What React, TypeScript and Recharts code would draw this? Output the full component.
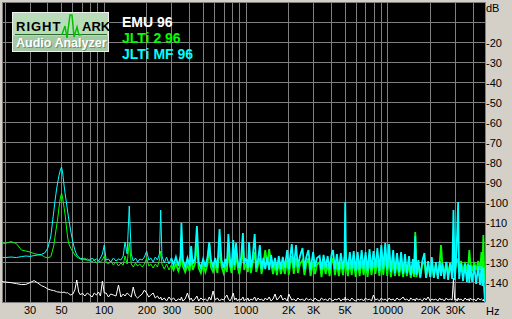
import React from 'react';
import { LineChart, Line, XAxis, YAxis, CartesianGrid } from 'recharts';

// ---- frequencies (Hz) ----
const freqA = [
  19, 20, 22, 24, 26, 28, 30, 32, 34, 36,
  38, 40, 42, 44, 45, 46, 47, 48, 49, 50,
  51, 52, 53, 54, 55, 56, 58, 60, 62, 64,
  66, 68, 70, 73, 76, 79, 82, 85, 88, 91,
  94, 97, 100,
];
const freqB = [
  103, 107, 111, 116, 121, 126, 131, 136, 140, 145,
  150, 155, 160, 166, 172, 178, 185, 192, 199, 206,
  213, 221, 229, 237, 245, 250, 255, 265, 275, 286,
  297, 308, 320, 333, 345, 350, 358, 372, 386, 400,
  410, 420, 436, 450, 463, 480, 498, 516, 535, 550,
  565, 585, 606, 628, 650, 670, 694, 715, 732, 750,
  770, 790, 812, 830, 850, 870, 895, 922, 950, 970,
  990,
];
const freqC = [
  1010, 1030, 1050, 1080, 1110, 1150, 1180, 1215, 1250, 1285,
  1325, 1365, 1410, 1455, 1500, 1550, 1600, 1650, 1700, 1760,
  1815, 1875, 1950, 2000, 2050, 2100, 2170, 2250, 2320, 2400,
  2500, 2580, 2660, 2750, 2850, 2970, 3060, 3160, 3300, 3400,
  3520, 3640, 3760, 3880, 4000, 4100, 4230, 4370, 4510, 4660,
  4820, 4950, 5000, 5060, 5220, 5390, 5560, 5740, 5930, 6120,
  6320, 6530, 6740, 6960, 7190, 7420, 7660, 7910, 8170, 8430,
  8710, 8990, 9280, 9580, 9890, 10200, 10500, 10900, 11200, 11600,
  12000, 12400, 12800, 13200, 13600, 14100, 14500, 15000, 15300, 15600,
  15900, 16400, 16900, 17500, 18100, 18600, 19200, 19900, 20400, 21100,
  21800, 22500, 23200, 23700, 24200, 25000, 25800, 26600, 27500, 28400,
  29000, 29600, 30200, 30800, 31300, 31800, 32800, 33900, 35000, 36100,
  37000, 37500, 38100, 39300, 40600, 41900, 43300, 44700, 45700, 46500,
  47100, 47600, 48000, 48400,
];

// ---- EMU 96 (dB) ----
const emuA = [
  -139.8, -140, -140.3, -140.8, -141.3, -141.2, -140.3, -139.3, -140.5, -141.8,
  -142.5, -143.5, -144, -144.3, -144.5, -144.8, -145, -145, -145.2, -145,
  -145.3, -145, -145.3, -145.5, -145.3, -145.8, -146.5, -146, -144, -139,
  -145, -146.5, -145.5, -147, -145.5, -146.5, -147.5, -145.5, -146.5, -145,
  -147, -139.5, -145.5,
];
const emuB = [
  -145.5, -147.5, -146, -146.5, -147, -141.5, -147.5, -146, -147, -145.5,
  -146.5, -147.5, -142.5, -147, -148, -147, -146, -144, -145.5, -147.5,
  -146.5, -145.5, -148, -147, -148.5, -147.5, -149, -148, -149.5, -147.5,
  -149, -148, -149.5, -148.5, -149, -147.5, -149.5, -148.5, -145.5, -149,
  -148, -149.5, -148.5, -147, -149.5, -148, -149, -148.5, -149.5, -147.5,
  -149, -144.5, -149, -148, -149.5, -148.5, -149, -147.5, -146.5, -148.5,
  -149.5, -148, -145.5, -149, -148, -149.5, -148.5, -149, -147.5, -149.5,
  -148.5,
];
const emuC = [
  -149, -148, -149.5, -148.5, -149, -147.5, -149.5, -148, -149, -148.5,
  -149.5, -148, -149, -147.5, -149.5, -148.5, -146, -149, -148, -146.5,
  -149, -148, -149.5, -146, -147.5, -149, -148.5, -149.5, -148, -149,
  -148.5, -149.5, -148, -149, -148.5, -149.5, -148, -149, -149.5, -148,
  -149, -148.5, -149.5, -148, -149, -149.5, -148.5, -149, -148, -149.5,
  -148.5, -149, -147.5, -149, -148.5, -149.5, -148, -149, -149.5, -148.5,
  -149, -148.5, -149.5, -148, -149, -148.5, -149.5, -146.5, -149, -148.5,
  -149.5, -148, -149, -148.5, -149.5, -148, -149, -148.5, -149.5, -148,
  -149, -148.5, -147.5, -149, -148.5, -149.5, -148, -149, -148.5, -149.5,
  -148, -149, -148.5, -149.5, -148, -149, -147.5, -149.5, -148.5, -149,
  -148.5, -149.5, -148, -149, -148.5, -149.5, -148, -149, -148.5, -149,
  -138, -149, -148.5, -149.5, -148, -149, -148.5, -149.5, -148, -149,
  -148.5, -149.5, -148, -149, -148.5, -149.5, -148, -149, -148.5, -149,
  -149.5, -148.5, -149, -149.5,
];

// ---- JLTi 2 96 (dB) ----
const jlti2A = [
  -120.5, -120.7, -119.8, -120.8, -124, -124.5, -125, -125.8, -126.2, -126.5,
  -127.5, -128, -127.3, -122, -117, -112.5, -108, -102.5, -98, -95.5,
  -98.5, -102.5, -106.5, -112, -117, -120.5, -123, -124.8, -126.5, -127.5,
  -128, -128.5, -129, -128, -129.5, -128.5, -130, -129, -130.5, -129.5,
  -130, -129, -127,
];
const jlti2B = [
  -130, -131, -129.5, -131.5, -130, -132, -130.5, -131.5, -127, -131,
  -120, -131, -132.5, -130.5, -132, -131, -132.5, -131, -128, -132,
  -131, -133, -131, -132.5, -129, -124.5, -131, -133.5, -131, -134,
  -131.5, -134, -131, -134.5, -131, -118, -132, -135, -131.5, -134.5,
  -127, -134, -131, -121, -133, -135.5, -131.5, -135, -131, -121,
  -132.5, -135, -131.5, -135.5, -122, -132, -135.5, -131.5, -135, -123,
  -132, -135.5, -126, -134, -125, -132, -136, -131, -123, -134,
  -131.5,
];
const jlti2C = [
  -131, -135, -127, -135.5, -131, -125, -135, -131.5, -128, -136,
  -131, -124, -131.5, -123.5, -130.5, -136, -131, -136.5, -130, -136,
  -131, -136, -129, -136.5, -131, -127, -136, -128, -135.5, -131,
  -129, -136.5, -131, -128, -137, -130, -136, -131.5, -130, -137.5,
  -130.5, -136, -131, -137, -130.5, -128, -136.5, -130.5, -137, -130,
  -136.5, -131, -120, -131, -137, -130, -136.5, -129.5, -137.5, -130,
  -137, -129.5, -136.5, -130, -137.5, -129, -136.5, -130, -136, -129,
  -137, -127.5, -136.5, -127, -137, -127.5, -137.5, -129.5, -137, -130.5,
  -137, -130.5, -137.5, -131, -137, -131.5, -138, -132, -137.5, -115,
  -137.5, -131.5, -138, -131, -130, -138, -131, -137.5, -130.5, -137.5,
  -131, -137, -130.5, -121.5, -131, -136.5, -130, -136, -130.5, -135.5,
  -129.5, -135.5, -130, -129, -130.5, -135, -129.5, -135, -130, -134.5,
  -130.5, -124, -130, -134.5, -130, -134, -129.5, -134, -125, -133.5,
  -116.5, -132, -134, -140,
];

// ---- JLTi MF 96 (dB) ----
const jltiMfA = [
  -127.7, -127.8, -127.5, -127.8, -127.3, -127, -127.2, -126.8, -126.5, -126.2,
  -125.5, -123, -117, -105, -99, -94, -90, -86.5, -84, -82.5,
  -86, -91.5, -96, -100, -104, -108, -114.5, -120, -124, -126.5,
  -127.5, -128.5, -128, -129, -128.5, -129.5, -128, -129, -128.5, -129.5,
  -128, -126, -121.5,
];
const jltiMfB = [
  -129, -128.5, -130, -128, -129.5, -128.5, -129, -127, -120, -126,
  -102, -126, -129.5, -128, -130, -128.5, -129, -127.5, -124.5, -129,
  -128, -130, -127.5, -129, -126, -104, -127, -130.5, -127.5, -131,
  -128, -131.5, -127.5, -132, -127, -110.5, -129, -132.5, -128, -132,
  -122, -131, -128, -112, -130, -133, -128.5, -132.5, -127.5, -120,
  -129, -132.5, -128, -133, -113.5, -129, -133, -128.5, -132, -116,
  -129, -133, -119, -131.5, -120.5, -129, -133, -128, -115.5, -131,
  -128.5,
];
const jltiMfC = [
  -129, -133, -120, -132.5, -128.5, -116, -133, -129, -121.5, -133.5,
  -128, -133.5, -127.5, -134, -126.5, -133, -128, -134, -127, -133.5,
  -127.5, -133, -124, -133.5, -127, -121, -133, -121.5, -132.5, -127,
  -123, -133.5, -127.5, -124, -134, -125, -132.5, -128, -127, -134,
  -126.5, -133, -127, -134, -126.5, -124, -133.5, -126, -134, -125.5,
  -133.5, -127, -100, -127.5, -134, -125, -133.5, -124.5, -134.5, -125,
  -134, -124, -133.5, -125, -134.5, -123.5, -134, -124.5, -133, -123,
  -134.5, -121.5, -133.5, -120.5, -134, -121, -135, -124, -135.5, -125.5,
  -135, -125, -136, -126, -135.5, -127, -136.5, -128.5, -136, -117,
  -136.5, -129, -137.5, -129.5, -125.5, -138, -129.5, -137.5, -127.5, -138,
  -130, -138.5, -129.5, -137, -130.5, -138.5, -130, -139, -130.5, -138.5,
  -104, -139, -131, -115.5, -100, -138.5, -130.5, -139.5, -131, -140,
  -131, -140.5, -131.5, -140, -131.5, -141, -132, -141.5, -132, -142,
  -133, -142, -146, -150,
];

const freqs = [...freqA, ...freqB, ...freqC];
const emu96 = [...emuA, ...emuB, ...emuC];
const jlti2 = [...jlti2A, ...jlti2B, ...jlti2C];
const jltiMf = [...jltiMfA, ...jltiMfB, ...jltiMfC];

const seriesNames = ['EMU 96', 'JLTi 2 96', 'JLTi MF 96'];
const seriesColors = ['#ffffff', '#00ff00', '#00ffff'];

// dense (noise-band) part of the spectrum is drawn with a heavier pen
const denseFrom = 297;
const sparseTo = 308;

// ---- axes ----
const xDomain = [19, 48400];
const xGridTicks = [
  19, 20, 30, 40, 50, 60, 70, 80, 90, 100,
  200, 300, 400, 500, 600, 700, 800, 900, 1000,
  2000, 3000, 4000, 5000, 6000, 7000, 8000, 9000, 10000,
  20000, 30000, 40000, 48400,
];
const xLabelValues = [30, 50, 100, 200, 300, 500, 1000, 2000, 3000, 5000, 10000, 20000, 30000];
const xLabelTexts = ['30', '50', '100', '200', '300', '500', '1000', '2K', '3K', '5K', '10000', '20K', '30K'];
const yTicks = [0, -10, -20, -30, -40, -50, -60, -70, -80, -90, -100, -110, -120, -130, -140, -150];
const yLabelTexts = ['dB', '', '-20', '-30', '-40', '-50', '-60', '-70', '-80', '-90', '-100', '-110', '-120', '-130', '-140', ''];

const rows = freqs.map((f, i) => ({
  f,
  emu: emu96[i],
  j2Lo: f <= sparseTo ? jlti2[i] : undefined,
  j2Hi: f >= denseFrom ? jlti2[i] : undefined,
  mfLo: f <= sparseTo ? jltiMf[i] : undefined,
  mfHi: f >= denseFrom ? jltiMf[i] : undefined,
}));

const FONT = '"Liberation Sans", Arial, sans-serif';

const XTick = (props: any) => {
  const { x, y, payload } = props;
  const v = payload.value;
  if (v === xDomain[1]) {
    return (
      <text x={x + 1} y={y + 13} textAnchor="start" fontSize={11} fontFamily={FONT} fill="#000">Hz</text>
    );
  }
  const idx = xLabelValues.indexOf(v);
  if (idx < 0) return <g />;
  return (
    <text x={x} y={y + 11.5} textAnchor="middle" fontSize={11} fontFamily={FONT} fill="#000">
      {xLabelTexts[idx]}
    </text>
  );
};

const YTick = (props: any) => {
  const { x, y, payload } = props;
  const idx = yTicks.indexOf(payload.value);
  const label = idx >= 0 ? yLabelTexts[idx] : '';
  if (!label) return <g />;
  const dy = payload.value === 0 ? 10 : 4.5;
  return (
    <text x={x} y={y + dy} textAnchor="start" fontSize={11} fontFamily={FONT} fill="#000">{label}</text>
  );
};

const Logo = () => (
  <g>
    <rect x={12.5} y={12.5} width={96} height={39} fill="#b8dcb8" stroke="#f0f0f0" strokeWidth={1} />
    <rect x={13} y={36} width={95} height={15} fill="#a4c8a4" />
    <line x1={15} y1={34.5} x2={107} y2={34.5} stroke="#2a6a2a" strokeWidth={1} />
    <text x={16} y={30.5} fontSize={13} fontWeight="bold" fontFamily={FONT} fill="#000" letterSpacing={1}>RIGHT</text>
    <text x={82} y={30.5} fontSize={13} fontWeight="bold" fontFamily={FONT} fill="#000">ARK</text>
    <polyline
      points="62,34.5 65,26 67,38 70,15 72,15 74,37 77,27 79,35 82,34.5"
      fill="none" stroke="#00c000" strokeWidth={1.5}
    />
    <text x={17} y={48} fontSize={12.5} fontWeight="bold" fontFamily={FONT} fill="#6f8f6f">Audio Analyzer</text>
    <text x={16} y={47} fontSize={12.5} fontWeight="bold" fontFamily={FONT} fill="#ffffff">Audio Analyzer</text>
  </g>
);

export default function App() {
  return (
    <div style={{ position: 'absolute', left: 0, top: 0, width: 512, height: 319, background: '#d4d0c8', overflow: 'hidden' }}>
      <LineChart width={512} height={319} data={rows} margin={{ top: 2, right: 0, bottom: 0, left: 2 }}>
        <CartesianGrid stroke="#808080" fill="#000000" fillOpacity={1} shapeRendering="crispEdges" />
        <XAxis
          dataKey="f" type="number" scale="log" domain={xDomain} allowDataOverflow
          ticks={xGridTicks} interval={0} tick={<XTick />} height={17}
          axisLine={false} tickLine={false} tickSize={0} tickMargin={0}
        />
        <YAxis
          orientation="right" type="number" domain={[-150, 0]} allowDataOverflow
          ticks={yTicks} interval={0} tick={<YTick />} width={27}
          axisLine={false} tickLine={false} tickSize={0} tickMargin={1}
        />
        <Line dataKey="emu" name={seriesNames[0]} stroke={seriesColors[0]} strokeWidth={1} dot={false} isAnimationActive={false} type="linear" />
        <Line dataKey="j2Lo" name={seriesNames[1]} stroke={seriesColors[1]} strokeWidth={1} dot={false} isAnimationActive={false} type="linear" />
        <Line dataKey="j2Hi" name={seriesNames[1]} stroke={seriesColors[1]} strokeWidth={1.8} dot={false} isAnimationActive={false} type="linear" />
        <Line dataKey="mfLo" name={seriesNames[2]} stroke={seriesColors[2]} strokeWidth={1} dot={false} isAnimationActive={false} type="linear" />
        <Line dataKey="mfHi" name={seriesNames[2]} stroke={seriesColors[2]} strokeWidth={1.8} dot={false} isAnimationActive={false} type="linear" />
      </LineChart>
      <svg width={512} height={319} style={{ position: 'absolute', left: 0, top: 0, pointerEvents: 'none' }}>
        <Logo />
        {seriesNames.map((n, i) => (
          <text key={n} x={122} y={26.5 + i * 16.3} fontSize={14} fontWeight="bold" fontFamily={FONT} fill={seriesColors[i]}>{n}</text>
        ))}
      </svg>
    </div>
  );
}
